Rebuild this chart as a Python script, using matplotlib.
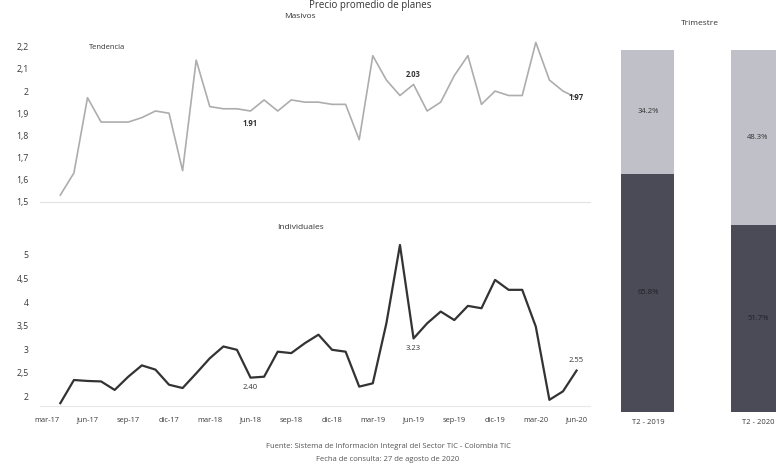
import numpy as np
import matplotlib
matplotlib.use("Agg")
import matplotlib.pyplot as plt
from matplotlib.ticker import FuncFormatter

plt.rcParams['font.family'] = ['Open Sans', 'DejaVu Sans']

# monthly axis, mar-17 .. jun-20 (data starts apr-17)
month_labels = ["mar-17", "jun-17", "sep-17", "dic-17", "mar-18", "jun-18", "sep-18",
                "dic-18", "mar-19", "jun-19", "sep-19", "dic-19", "mar-20", "jun-20"]
first_month = 1   # apr-17

masivos = [1.53, 1.63, 1.97, 1.86, 1.86, 1.86, 1.88, 1.91, 1.90, 1.64,
           2.14, 1.93, 1.92, 1.92, 1.91, 1.96, 1.91, 1.96, 1.95, 1.95,
           1.94, 1.94, 1.78, 2.16, 2.05, 1.98, 2.03, 1.91, 1.95, 2.07,
           2.16, 1.94, 2.00, 1.98, 1.98, 2.22, 2.05, 2.00, 1.97]

individuales = [1.86, 2.35, 2.33, 2.32, 2.14, 2.42, 2.66, 2.57, 2.25, 2.18,
                2.49, 2.81, 3.06, 2.99, 2.40, 2.42, 2.95, 2.92, 3.13, 3.31,
                2.99, 2.95, 2.21, 2.28, 3.55, 5.21, 3.23, 3.55, 3.80, 3.62,
                3.92, 3.87, 4.47, 4.26, 4.26, 3.48, 1.93, 2.11, 2.55]

# points that carry a value label (jun-18, jun-19, jun-20)
label_months = [15, 27, 39]

trimestres = ["T2 - 2019", "T2 - 2020"]
pct_individuales = [65.8, 51.7]
pct_masivos = [34.2, 48.3]

light = "#c0c0c8"
dark = "#4b4b57"
txt = "#3a3a3a"


def fmt_comma(v, pos=None):
    s = ("%.1f" % v).rstrip("0").rstrip(".")
    return s.replace(".", ",")


fig = plt.figure(figsize=(7.76, 4.74), dpi=100)
fig.patch.set_facecolor("white")

x = np.arange(first_month, first_month + len(masivos))

# ---- Masivos
ax1 = fig.add_axes([0.0515, 0.5745, 0.709, 0.350])
ax1.plot(x, masivos, color="#adadad", lw=1.2)
ax1.set_xlim(-0.5, 40)
ax1.set_ylim(1.5, 2.25)
ax1.set_yticks(np.arange(1.5, 2.21, 0.1))
ax1.yaxis.set_major_formatter(FuncFormatter(fmt_comma))
ax1.set_xticks([])
for s in ["top", "right", "left"]:
    ax1.spines[s].set_visible(False)
ax1.spines["bottom"].set_color("#e2e2e2")
ax1.tick_params(axis="y", length=0, labelsize=6.3, labelcolor=txt, pad=8)
offs1 = {15: (0, -9), 27: (0, 7), 39: (0, 0)}
for m in label_months:
    v = masivos[m - first_month]
    dx, dy = offs1[m]
    ax1.annotate("%.2f" % v, (m, v), xytext=(dx, dy), textcoords="offset points",
                 ha="center", va="center", fontsize=5.5, color="#333333",
                 fontweight="bold")
fig.text(0.387, 0.966, "Masivos", ha="center", va="center", fontsize=6, color="#333333")
fig.text(0.138, 0.900, "Tendencia", ha="center", va="center", fontsize=5.5, color="#333333")

# ---- Individuales
ax2 = fig.add_axes([0.0515, 0.1435, 0.709, 0.3586])
ax2.plot(x, individuales, color="#333333", lw=1.6)
ax2.set_xlim(-0.5, 40)
ax2.set_ylim(1.8, 5.4)
ax2.set_yticks(np.arange(2, 5.01, 0.5))
ax2.yaxis.set_major_formatter(FuncFormatter(fmt_comma))
ax2.set_xticks(np.arange(0, 40, 3))
ax2.set_xticklabels(month_labels)
for s in ["top", "right", "left"]:
    ax2.spines[s].set_visible(False)
ax2.spines["bottom"].set_color("#e8e8e8")
ax2.tick_params(axis="y", length=0, labelsize=6.3, labelcolor=txt, pad=8)
ax2.tick_params(axis="x", length=0, labelsize=5.4, labelcolor=txt, pad=8)
offs2 = {15: (0, -7), 27: (0, -7), 39: (0, 7)}
for m in label_months:
    v = individuales[m - first_month]
    dx, dy = offs2[m]
    ax2.annotate("%.2f" % v, (m, v), xytext=(dx, dy), textcoords="offset points",
                 ha="center", va="center", fontsize=5.5, color="#333333")
fig.text(0.387, 0.519, "Individuales", ha="center", va="center", fontsize=6, color="#333333")

# ---- Trimestre bars
ax3 = fig.add_axes([0.764, 0.1314, 0.2835, 0.763])
bx = np.arange(len(trimestres))
ax3.bar(bx, pct_individuales, width=0.48, color=dark)
ax3.bar(bx, pct_masivos, width=0.48, bottom=pct_individuales, color=light)
for i in range(len(trimestres)):
    ax3.text(bx[i], pct_individuales[i] / 2, "%.1f%%" % pct_individuales[i],
             ha="center", va="center", fontsize=5.5, color="#1e1e24")
    ax3.text(bx[i], pct_individuales[i] + pct_masivos[i] / 2, "%.1f%%" % pct_masivos[i],
             ha="center", va="center", fontsize=5.5, color="#333333")
ax3.set_xlim(-0.5, 1.5)
ax3.set_ylim(0, 100)
ax3.set_xticks(bx)
ax3.set_xticklabels(trimestres)
ax3.set_yticks([])
for s in ax3.spines.values():
    s.set_visible(False)
ax3.tick_params(axis="x", length=0, labelsize=5.5, labelcolor=txt, pad=5)
fig.text(0.902, 0.951, "Trimestre", ha="center", va="center", fontsize=6, color="#333333")

# ---- title (at the very top) and source
fig.text(0.477, 0.999, "Precio promedio de planes", ha="center", va="top",
         fontsize=7, color="#333333")
fig.text(0.5, 0.057, "Fuente: Sistema de Información Integral del Sector TIC - Colombia TIC",
         ha="center", va="center", fontsize=5.5, color="#555555")
fig.text(0.5, 0.030, "Fecha de consulta: 27 de agosto de 2020",
         ha="center", va="center", fontsize=5.5, color="#555555")

fig.savefig("out.png", dpi=100, facecolor="white")
